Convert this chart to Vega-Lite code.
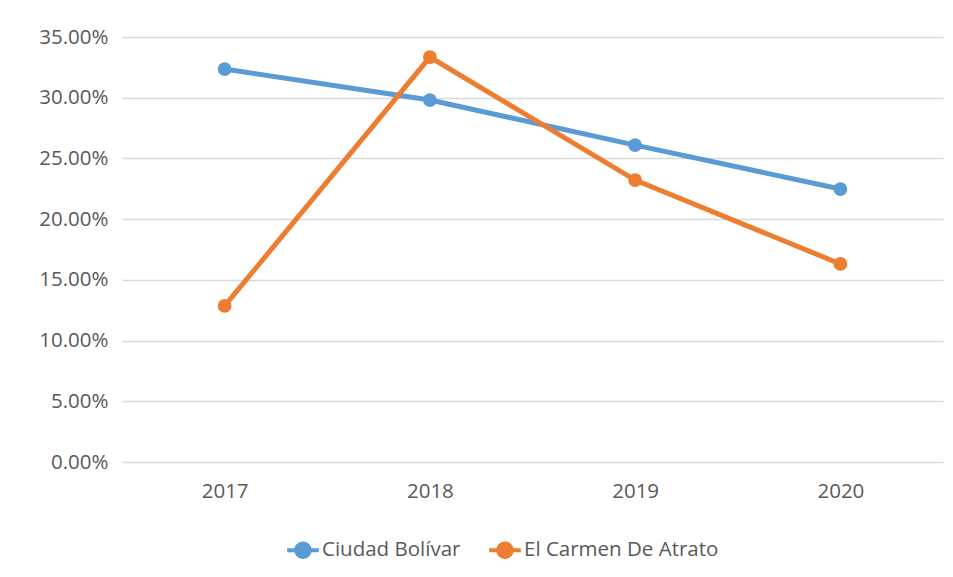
{
  "$schema": "https://vega.github.io/schema/vega-lite/v6.json",
  "width": 821,
  "height": 425,
  "autosize": "none",
  "padding": {"left": 122, "top": 37, "right": 10, "bottom": 115},
  "background": "white",
  "data": {
    "values": [
      {"year": "2017", "series": "Ciudad Bolívar", "value": 0.3236},
      {"year": "2018", "series": "Ciudad Bolívar", "value": 0.2981},
      {"year": "2019", "series": "Ciudad Bolívar", "value": 0.2610},
      {"year": "2020", "series": "Ciudad Bolívar", "value": 0.2248},
      {"year": "2017", "series": "El Carmen De Atrato", "value": 0.1285},
      {"year": "2018", "series": "El Carmen De Atrato", "value": 0.3335},
      {"year": "2019", "series": "El Carmen De Atrato", "value": 0.2322},
      {"year": "2020", "series": "El Carmen De Atrato", "value": 0.1631}
    ]
  },
  "config": {
    "view": {"stroke": null},
    "font": "Open Sans",
    "axis": {
      "labelFont": "Open Sans",
      "labelColor": "#595959",
      "labelFontSize": 20.5,
      "labelOverlap": false,
      "gridColor": "#d9d9d9",
      "gridWidth": 1.5,
      "domain": false,
      "ticks": false,
      "title": null
    }
  },
  "layer": [
    {
      "mark": {"type": "line", "strokeWidth": 5},
      "encoding": {
        "x": {"field": "year", "type": "ordinal", "scale": {"type": "point", "padding": 0.5},
              "axis": {"labelAngle": 0, "grid": false, "labelPadding": 19}},
        "y": {"field": "value", "type": "quantitative", "scale": {"domain": [0, 0.35]},
              "axis": {"format": ".2%", "values": [0, 0.05, 0.1, 0.15, 0.2, 0.25, 0.3, 0.35], "labelPadding": 14}},
        "color": {"field": "series", "type": "nominal",
                  "scale": {"domain": ["Ciudad Bolívar", "El Carmen De Atrato"], "range": ["#5B9BD5", "#ED7D31"]},
                  "legend": {
                    "title": null,
                    "orient": "none",
                    "direction": "horizontal",
                    "legendX": 165,
                    "legendY": 497,
                    "symbolType": "M-1,-0.13 L1,-0.13 L1,0.13 L-1,0.13 Z M-0.55,0 A0.55,0.55 0 1,1 0.55,0 A0.55,0.55 0 1,1 -0.55,0 Z",
                    "symbolSize": 1000,
                    "symbolStrokeWidth": 0,
                    "symbolOpacity": 1,
                    "labelFont": "Open Sans",
                    "labelFontSize": 20.5,
                    "labelColor": "#595959",
                    "labelOffset": 3,
                    "labelLimit": 400,
                    "columnPadding": 28
                  }}
      }
    },
    {
      "mark": {"type": "point", "filled": true, "size": 190, "opacity": 1},
      "encoding": {
        "x": {"field": "year", "type": "ordinal", "scale": {"type": "point", "padding": 0.5}},
        "y": {"field": "value", "type": "quantitative"},
        "color": {"field": "series", "type": "nominal", "legend": null}
      }
    }
  ]
}
